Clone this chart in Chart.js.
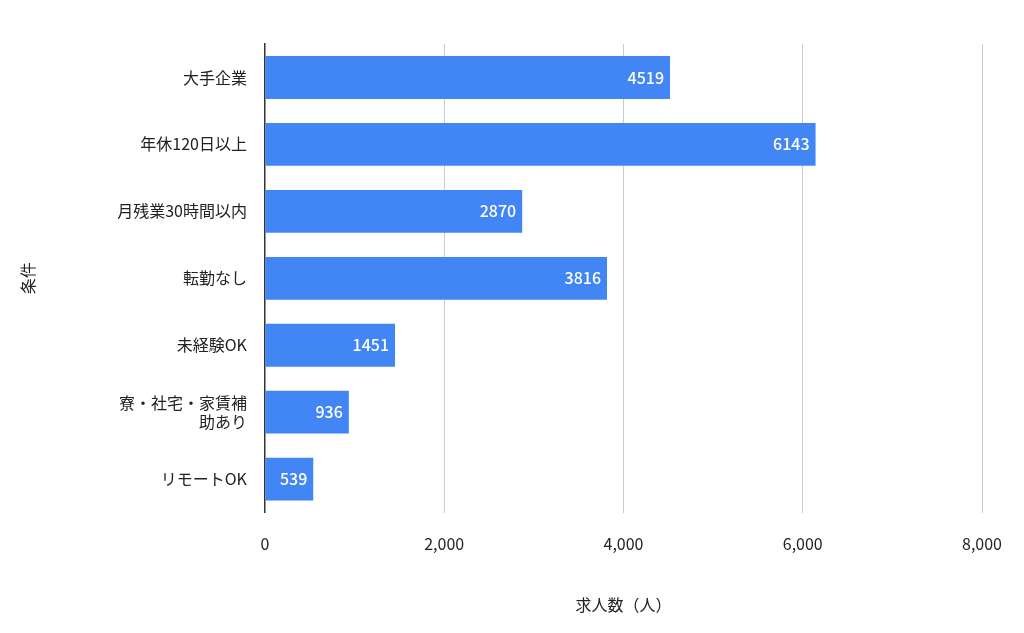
<!DOCTYPE html>
<html><head><meta charset="utf-8">
<script src="https://cdn.jsdelivr.net/npm/chart.js@4/dist/chart.umd.min.js"></script>
<style>html,body{margin:0;background:#fff}#wrap{width:1024px;height:633px}</style>
</head><body><div id="wrap"><canvas id="c"></canvas></div>
<script>
const labels = ['大手企業', '年休120日以上', '月残業30時間以内', '転勤なし', '未経験OK', ['寮・社宅・家賃補', '助あり'], 'リモートOK'];
const counts = [4519, 6143, 2870, 3816, 1451, 936, 539];
const ticks = [0, 2000, 4000, 6000, 8000];

const font = "'Noto Sans CJK JP', Roboto, sans-serif";

// white value labels inside the end of each bar
const valueLabels = {
  id: 'valueLabels',
  afterDatasetsDraw(chart) {
    const ctx = chart.ctx;
    const meta = chart.getDatasetMeta(0);
    ctx.save();
    ctx.fillStyle = '#fff';
    ctx.font = '500 16px ' + font;
    ctx.textAlign = 'right';
    ctx.textBaseline = 'middle';
    meta.data.forEach((bar, i) => {
      ctx.fillText(String(counts[i]), bar.x - 6, bar.y);
    });
    ctx.restore();
  }
};

new Chart(document.getElementById('c'), {
  type: 'bar',
  data: {
    labels: labels,
    datasets: [{
      data: counts,
      backgroundColor: '#4285F4',
      categoryPercentage: 1,
      barPercentage: 0.64
    }]
  },
  plugins: [valueLabels],
  options: {
    indexAxis: 'y',
    responsive: true,
    maintainAspectRatio: false,
    animation: false,
    layout: { padding: { top: 44, right: 31, left: 14, bottom: 14 } },
    plugins: { legend: { display: false }, tooltip: { enabled: false } },
    scales: {
      x: {
        min: 0, max: 8000,
        afterBuildTicks: axis => { axis.ticks = ticks.map(v => ({ value: v })); },
        grid: { color: '#ccc', drawTicks: false },
        border: { display: false },
        ticks: { color: '#222', font: { family: font, size: 16 }, padding: 22 },
        title: { display: true, text: '求人数（人）', color: '#222', font: { family: font, size: 16 }, padding: { top: 20 } }
      },
      y: {
        grid: { display: false },
        border: { color: '#333', width: 1.5 },
        ticks: { color: '#222', font: { family: font, size: 16 }, padding: 10 },
        title: { display: true, text: '条件', color: '#222', font: { family: font, size: 16 }, padding: { bottom: 70 } }
      }
    }
  }
});
</script></body></html>
